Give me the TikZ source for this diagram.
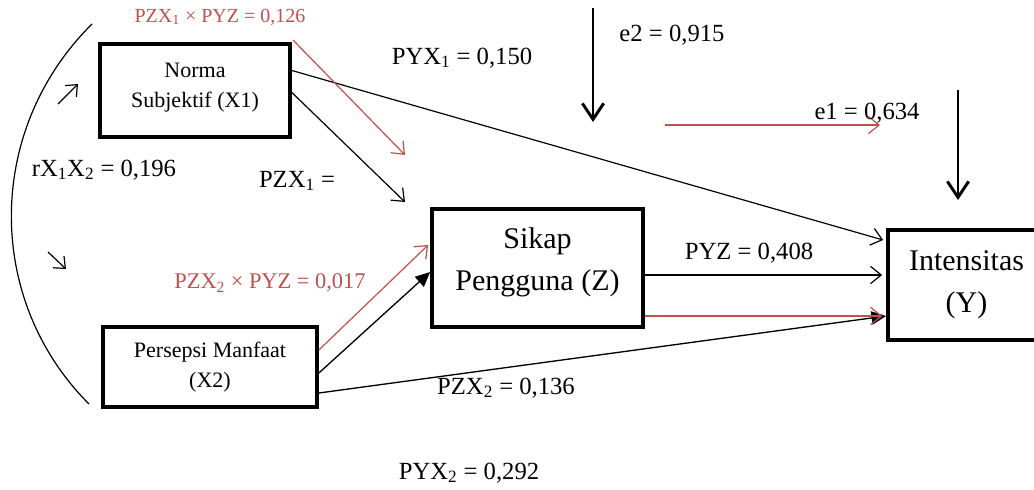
\documentclass[tikz,border=0pt]{standalone}
\usepackage{fontspec}
\setmainfont{Liberation Serif}
\usetikzlibrary{arrows.meta,calc}
\definecolor{redc}{RGB}{192,80,77}
\begin{document}
\begin{tikzpicture}[x=0.75pt,y=-0.75pt,
  box/.style={draw,line width=2.8pt,align=center,inner sep=0pt},
  smallbox/.style={box,font=\fontsize{16.5}{22.5}\selectfont},
  bigbox/.style={box,font=\fontsize{22.5}{31.5}\selectfont},
  lbl/.style={inner sep=0pt,font=\fontsize{18.5}{22}\selectfont},
  redlbl/.style={inner sep=0pt,text=redc},
  openarr/.style={line width=0.9pt,-{Straight Barb[length=8pt,width=13pt]}},
  filledarr/.style={line width=1pt,-{Triangle[length=11pt,width=10pt]}},
  redarr/.style={openarr,draw=redc},
  errarr/.style={line width=2.2pt,-{Straight Barb[length=12pt,width=16pt,line width=2.2pt]}}
]
\useasboundingbox (0,0) rectangle (1034,489);

% boxes
\node[smallbox,text depth=8pt,minimum width=142.5pt,minimum height=69.75pt] (nx1) at (195,90.5) {Norma\\Subjektif (X1)};
\node[smallbox,minimum width=160.5pt,minimum height=60pt] (nx2) at (210,367) {Persepsi Manfaat\\(X2)};
\node[bigbox,text depth=14pt,minimum width=158.25pt,minimum height=88.5pt] (nz) at (537.5,268) {Sikap\\Pengguna (Z)};
\node[bigbox,minimum width=117.75pt,minimum height=82.5pt] (ny) at (966.5,285) {Intensitas\\(Y)};

% correlation arc and marks
\coordinate (arcA) at (92,24);
\coordinate (arcB) at (89,404);
\draw[line width=0.9pt] (arcA) .. controls (-15,130) and (-15,300) .. (arcB);
\coordinate (m1a) at (58,104); \coordinate (m1b) at (78,84);
\draw[openarr,-{Straight Barb[length=7pt,width=12pt]}] (m1a) -- (m1b);
\coordinate (m2a) at (48,252); \coordinate (m2b) at (66,269);
\draw[openarr,-{Straight Barb[length=7pt,width=12pt]}] (m2a) -- (m2b);

% paths
\draw[openarr] ($(nx1.east)+(0,-20)$) -- ($(ny.west)+(-3,-45)$);
\coordinate (z1end) at (405,202);
\draw[openarr] ($(nx1.east)+(0,2)$) -- (z1end);
\coordinate (r1a) at (293,40); \coordinate (r1b) at (405,155);
\draw[redarr] (r1a) -- (r1b);

\draw[redarr] ($(nx2.east)+(0,-17)$) -- ($(nz.west)+(-2,-23)$);
\draw[filledarr] ($(nx2.east)+(0,6)$) -- ($(nz.west)+(0,4)$);
\draw[filledarr] ($(nx2.east)+(0,26)$) -- ($(ny.west)+(0,31)$);

\draw[openarr] ($(nz.east)+(0,7)$) -- ($(ny.west)+(-4,-10)$);
\draw[redarr] ($(nz.east)+(0,48)$) -- ($(ny.west)+(-4,31)$);

% error terms
\coordinate (e2a) at (593,8); \coordinate (e2b) at (593,122);
\draw[errarr] (e2a) -- (e2b);
\coordinate (e1a) at (958,90); \coordinate (e1b) at (958,200);
\draw[errarr] (e1a) -- (e1b);
\coordinate (r3a) at (665,125); \coordinate (r3b) at (880,125);
\draw[redarr] (r3a) -- (r3b);

% labels
\node[redlbl,font=\fontsize{15}{18}\selectfont] (l1) at (220,17) {PZX\textsubscript{1} × PYZ = 0,126};
\node[lbl] (l2) at (462,58) {PYX\textsubscript{1} = 0,150};
\node[lbl] (l3) at (672,35) {e2 = 0,915};
\node[lbl] (l4) at (867,113) {e1 = 0,634};
\node[lbl] (l5) at (104,170) {rX\textsubscript{1}X\textsubscript{2} = 0,196};
\node[lbl] (l6) at (297,181) {PZX\textsubscript{1} =};
\node[lbl] (l7) at (749,253) {PYZ = 0,408};
\node[redlbl,font=\fontsize{16.8}{20}\selectfont] (l8) at (270,283) {PZX\textsubscript{2} × PYZ = 0,017};
\node[lbl] (l9) at (506,388) {PZX\textsubscript{2} = 0,136};
\node[lbl] (l10) at (469,473) {PYX\textsubscript{2} = 0,292};
\end{tikzpicture}
\end{document}
